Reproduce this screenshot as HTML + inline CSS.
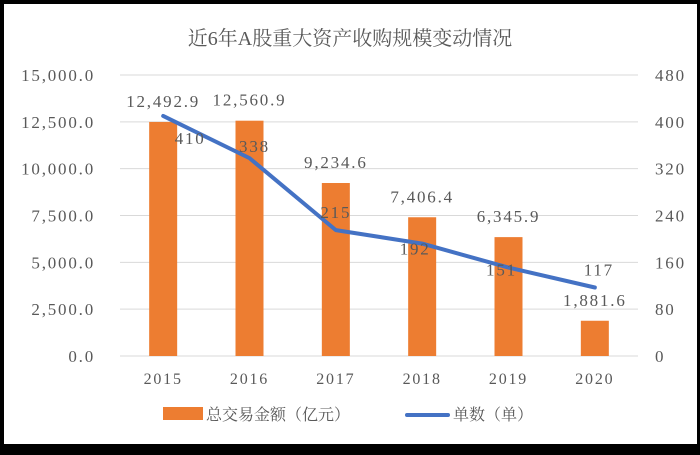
<!DOCTYPE html>
<html><head><meta charset="utf-8"><style>
html,body{margin:0;padding:0;background:#000;}
#wrap{position:absolute;left:4px;top:4px;width:693px;height:440px;background:#fff;}
svg{position:absolute;left:0;top:0;}
text{font-family:"Liberation Serif","Noto Serif CJK SC",serif;fill:#595959;}
.num{letter-spacing:1.8px;}
</style></head><body>
<div id="wrap"></div>
<svg id="chart" width="700" height="455"></svg>
<script>
const categories=["2015","2016","2017","2018","2019","2020"];
const amounts=[12492.9,12560.9,9234.6,7406.4,6345.9,1881.6];
const counts=[410,338,215,192,151,117];
const leftTicks=[0,2500,5000,7500,10000,12500,15000];
const rightTicks=[0,80,160,240,320,400,480];
const countLabelOffsets=[[27,22],[5,-12],[0,-18],[-7,5],[-7,2],[4,-18]];
const NS="http://www.w3.org/2000/svg";
const svg=document.getElementById('chart');
function el(t,a,txt){const e=document.createElementNS(NS,t);for(const k in a)e.setAttribute(k,a[k]);if(txt!==undefined)e.textContent=txt;svg.appendChild(e);return e;}
const x0=120,x1=638,yTop=75,yBot=356;
const yL=v=>yBot-v/15000*(yBot-yTop);
const yR=v=>yBot-v/480*(yBot-yTop);
const step=(x1-x0)/categories.length;
const xC=i=>x0+step*(i+0.5);
const fmt=v=>v.toLocaleString('en-US',{minimumFractionDigits:1});
let t=el('text',{x:350,y:45,'text-anchor':'middle','font-size':20});t.textContent="近6年A股重大资产收购规模变动情况";

leftTicks.forEach(v=>{
 const g=el('line',{x1:x0,x2:x1,y1:yL(v),y2:yL(v),stroke:'#d9d9d9','stroke-width':1});
 
 const l=el('text',{x:95,y:yL(v)+6,'text-anchor':'end','font-size':17,class:'num'},fmt(v));
 
});
rightTicks.forEach(v=>{
 const l=el('text',{x:655,y:yR(v)+6,'font-size':17,class:'num'},String(v));
 
});
categories.forEach((c,i)=>{
 const l=el('text',{x:xC(i),y:384,'text-anchor':'middle','font-size':16,class:'num'},c);
 
 const b=el('rect',{x:xC(i)-14,y:yL(amounts[i]),width:28,height:yBot-yL(amounts[i]),fill:'#ed7d31'});
 
 const bl=el('text',{x:xC(i),y:yL(amounts[i])-15,'text-anchor':'middle','font-size':17,class:'num'},fmt(amounts[i]));
 
});
const pts=counts.map((v,i)=>xC(i)+','+yR(v)).join(' ');
const pl=el('polyline',{points:pts,fill:'none',stroke:'#4472c4','stroke-width':4,'stroke-linejoin':'round','stroke-linecap':'round'});

counts.forEach((v,i)=>{
 const l=el('text',{x:xC(i)+countLabelOffsets[i][0],y:yR(v)+countLabelOffsets[i][1]+6,'text-anchor':'middle','font-size':17,class:'num'},String(v));
 
});
const sw=el('rect',{x:163,y:407,width:40,height:13,fill:'#ed7d31'});

const lt1=el('text',{x:206,y:420,'font-size':16},"总交易金额（亿元）");

const ll=el('line',{x1:407,x2:448,y1:415,y2:415,stroke:'#4472c4','stroke-width':4,'stroke-linecap':'round'});

const lt2=el('text',{x:453,y:420,'font-size':16},"单数（单）");

</script>
</body></html>
